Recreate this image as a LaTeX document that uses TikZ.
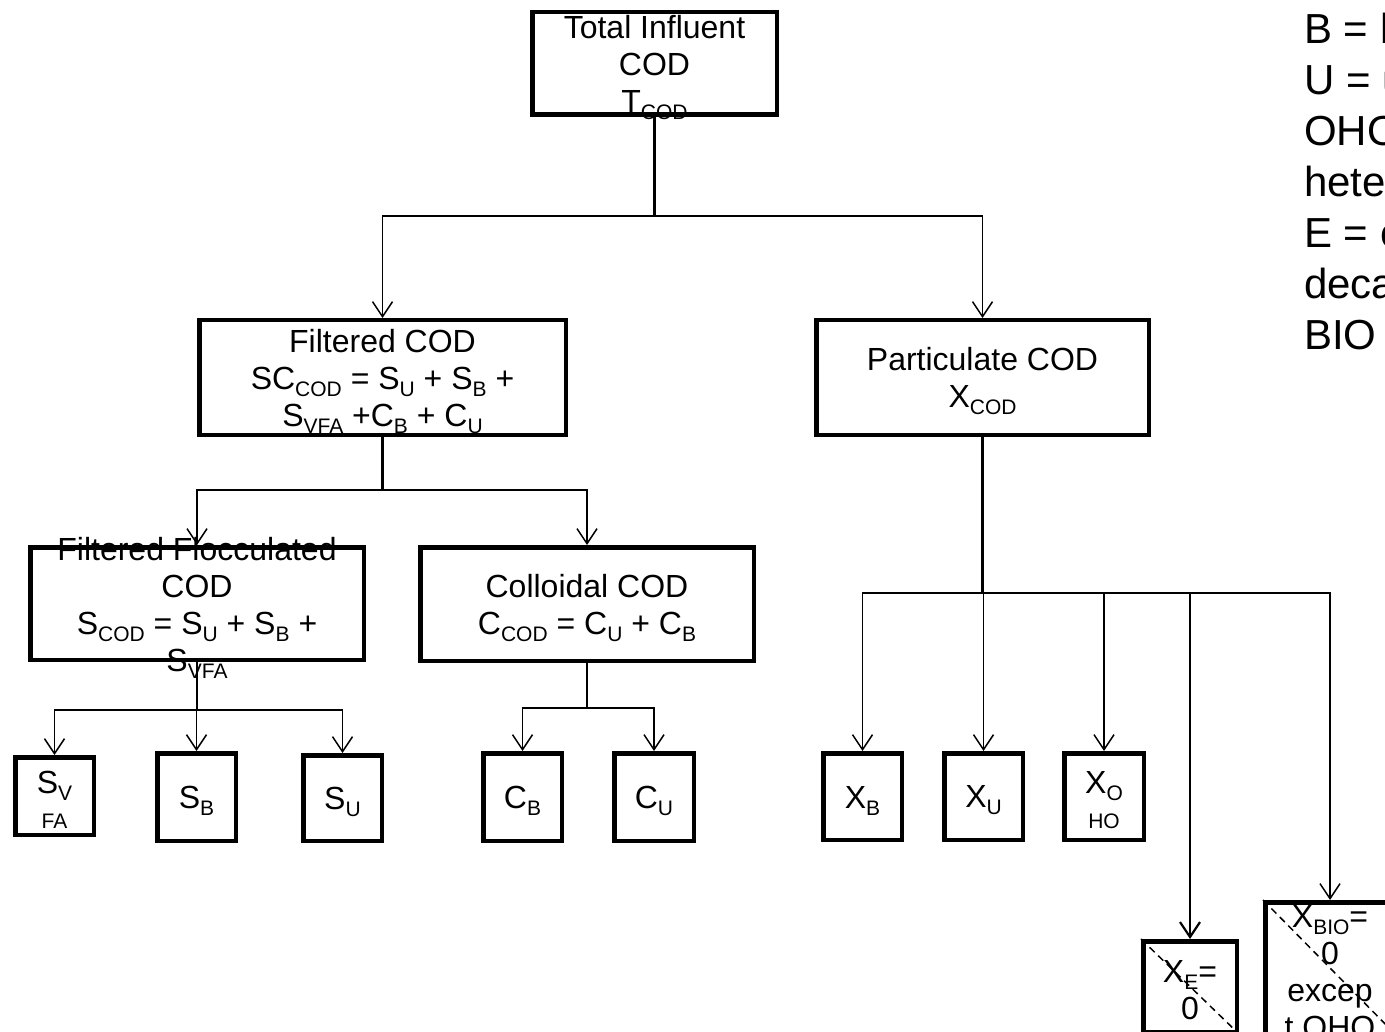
\documentclass[tikz,border=0pt]{standalone}
\usepackage{fontspec}
\setmainfont{Liberation Sans}
\usetikzlibrary{arrows.meta}
\newcommand\sbs[1]{\raisebox{-7pt}{\fontsize{21}{21}\selectfont #1}}
\begin{document}
\begin{tikzpicture}[x=1pt,y=-1pt,
  box/.style={draw, line width=4.5pt, inner sep=0pt, outer sep=2.25pt},
  txt/.style={align=center, inner sep=0pt, yshift=-4pt, font=\fontsize{32}{37}\selectfont},
  conn/.style={line width=1.5pt, -{Straight Barb[length=15pt,width=20pt]}},
  stem/.style={line width=2.2pt},
  diag/.style={line width=1.5pt, dash pattern=on 7pt off 5pt}]
\useasboundingbox (0,0) rectangle (1385,1032);
\clip (0,0) rectangle (1385,1032);
% boxes
\node[box, minimum width=244.5pt, minimum height=102.5pt] (tot) at (654.5,63.5) {};
\node[box, minimum width=366.5pt, minimum height=114.5pt] (fil) at (382.5,377.5) {};
\node[box, minimum width=332.5pt, minimum height=114.5pt] (par) at (982.5,377.5) {};
\node[box, minimum width=333.5pt, minimum height=112.5pt] (flo) at (197,603.5) {};
\node[box, minimum width=333.5pt, minimum height=113.5pt] (col) at (587,604) {};
\node[box, minimum width=78.5pt, minimum height=77.5pt] (sv) at (54.5,796) {};
\node[box, minimum width=78.5pt, minimum height=87.5pt] (sb) at (196.5,797) {};
\node[box, minimum width=78.5pt, minimum height=85.5pt] (su) at (342.5,798) {};
\node[box, minimum width=78.5pt, minimum height=87.5pt] (cb) at (522.5,797) {};
\node[box, minimum width=79.5pt, minimum height=87.5pt] (cu) at (654,797) {};
\node[box, minimum width=78.5pt, minimum height=86.5pt] (xb) at (862.5,796.5) {};
\node[box, minimum width=78.5pt, minimum height=86.5pt] (xu) at (983.5,796.5) {};
\node[box, minimum width=79.5pt, minimum height=86.5pt] (xo) at (1104,796.5) {};
\node[box, minimum width=93.5pt, minimum height=90.5pt] (xe) at (1190,986.5) {};
\node[box, minimum width=129.5pt, minimum height=131.5pt] (xbio) at (1330,968) {};
% dashed diagonals
\draw[diag] (xe.north west) -- (xe.south east);
\draw[diag] (xbio.north west) -- (xbio.south east);
% texts
\node[txt] (ttot) at (tot.center) {Total Influent\\COD\\T\sbs{COD}};
\node[txt] (tfil) at (fil.center) {Filtered COD\\SC\sbs{COD} = S\sbs{U} + S\sbs{B} +\\S\sbs{VFA} +C\sbs{B} + C\sbs{U}};
\node[txt] (tpar) at (par.center) {Particulate COD\\X\sbs{COD}};
\node[txt] (tflo) at (flo.center) {Filtered Flocculated\\COD\\S\sbs{COD} = S\sbs{U} + S\sbs{B} +\\S\sbs{VFA}};
\node[txt] (tcol) at (col.center) {Colloidal COD\\C\sbs{COD} = C\sbs{U} + C\sbs{B}};
\node[txt] (tsv) at (sv.center) {S\sbs{V}\\[-9pt]\sbs{FA}};
\node[txt] (tsb) at (sb.center) {S\sbs{B}};
\node[txt] (tsu) at (su.center) {S\sbs{U}};
\node[txt] (tcb) at (cb.center) {C\sbs{B}};
\node[txt] (tcu) at (cu.center) {C\sbs{U}};
\node[txt] (txb) at (xb.center) {X\sbs{B}};
\node[txt] (txu) at (xu.center) {X\sbs{U}};
\node[txt] (txo) at (xo.center) {X\sbs{O}\\[-9pt]\sbs{HO}};
\node[txt] (txe) at (xe.center) {X\sbs{E}=\\0};
\node[txt] (txbio) at (xbio.center) {X\sbs{BIO}=\\0\\excep\\t OHO};
% legend
\node[anchor=north west, align=left, inner sep=0pt, font=\fontsize{42}{51}\selectfont] (leg) at (1304,13)
  {B = biodegradable\\U = unbiodegradable\\OHO = ordinary\\heterotrophic organisms\\E = endogenous\\decay\\BIO = biomass};
% junctions
\coordinate (j1) at (654.5,216);
\coordinate (j2) at (382.5,490);
\coordinate (j3) at (197,710);
\coordinate (j4) at (587,708);
\coordinate (j5) at (982.5,593);
% connectors
\draw[stem] (tot.south) -- (j1);
\draw[conn] (j1) -| (fil.north);
\draw[conn] (j1) -| (par.north);
\draw[stem] (fil.south) -- (j2);
\draw[conn] (j2) -| (flo.north);
\draw[conn] (j2) -| (col.north);
\draw[stem] (flo.south) -- (j3);
\draw[conn] (j3) -| (sv.north);
\draw[conn] (j3) -| (sb.north);
\draw[conn] (j3) -| (su.north);
\draw[stem] (col.south) -- (j4);
\draw[conn] (j4) -| (cb.north);
\draw[conn] (j4) -| (cu.north);
\draw[stem] (par.south) -- (j5);
\draw[conn] (j5) -| (xb.north);
\draw[conn] (j5) -| (xu.north);
\draw[conn] (j5) -| (xo.north);
\draw[conn, line width=2.2pt] (j5) -| (xe.north);
\draw[conn] (j5) -| (xbio.north);
\end{tikzpicture}
\end{document}
